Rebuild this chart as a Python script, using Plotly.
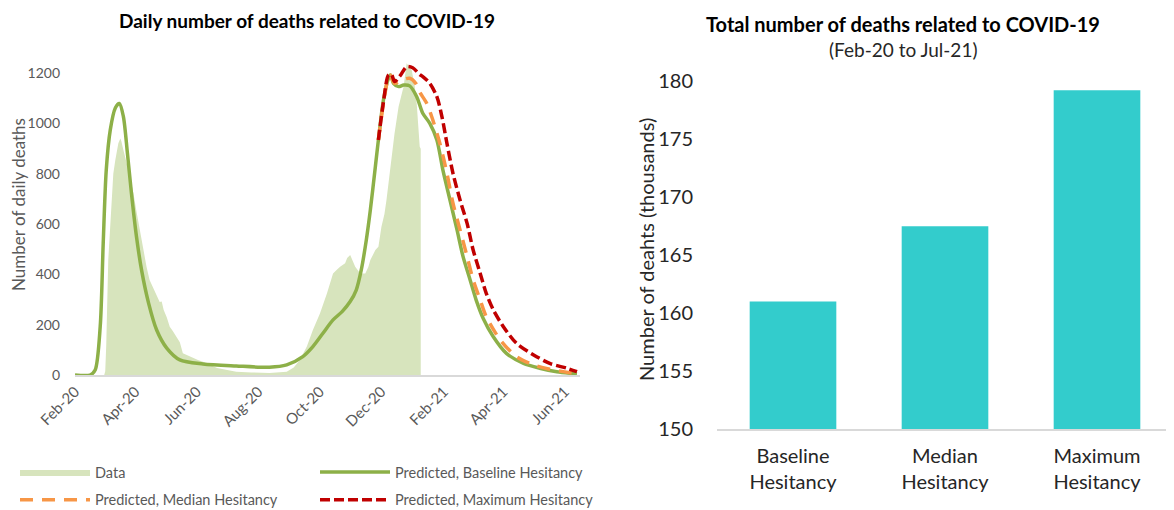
import plotly.graph_objects as go

W, H = 1174, 510
FONT = "Lato"

# ---------------- data: daily deaths (observed) ----------------
data_dates = [
    "2020-02-01", "2020-03-01", "2020-03-02", "2020-03-03", "2020-03-05", "2020-03-08",
    "2020-03-10", "2020-03-12", "2020-03-15", "2020-03-17", "2020-03-18", "2020-03-20",
    "2020-03-23", "2020-03-25", "2020-03-28", "2020-03-30", "2020-04-02", "2020-04-04",
    "2020-04-07", "2020-04-09", "2020-04-12", "2020-04-15", "2020-04-18", "2020-04-20",
    "2020-04-22", "2020-04-25", "2020-04-27", "2020-04-29", "2020-05-02", "2020-05-05",
    "2020-05-08", "2020-05-12", "2020-05-15", "2020-05-18", "2020-05-22", "2020-05-28",
    "2020-06-02", "2020-06-07", "2020-06-14", "2020-06-21", "2020-07-01", "2020-07-10",
    "2020-07-25", "2020-08-12", "2020-08-29", "2020-09-05", "2020-09-11", "2020-09-18",
    "2020-09-24", "2020-10-01", "2020-10-08", "2020-10-14", "2020-10-18", "2020-10-21",
    "2020-10-26", "2020-10-28", "2020-10-31", "2020-11-02", "2020-11-05", "2020-11-10",
    "2020-11-15", "2020-11-18", "2020-11-20", "2020-11-25", "2020-11-28", "2020-12-01",
    "2020-12-04", "2020-12-06", "2020-12-09", "2020-12-11", "2020-12-14", "2020-12-18",
    "2020-12-21", "2020-12-23", "2020-12-26", "2020-12-29", "2020-12-31", "2021-01-03",
    "2021-01-05", "2021-01-08", "2021-01-09",
]
data_values = [
    0, 0, 15, 120, 457, 696,
    800, 855, 922, 941, 930, 895,
    850, 815, 760, 723, 650, 604,
    540, 497, 430, 378, 350, 330,
    316, 290, 292, 259, 230, 192,
    175, 152, 130, 87, 80, 67,
    60, 53, 40, 28, 20, 13,
    10, 8, 13, 30, 60, 113,
    179, 245, 325, 404, 420, 431,
    444, 465, 477, 460, 431, 404,
    404, 430, 457, 497, 510, 590,
    640, 696, 800, 882, 961, 1067,
    1120, 1147, 1240, 1225, 1213, 1150,
    1080, 908, 900,
]

# ---------------- predicted, baseline hesitancy ----------------
base_dates = [
    "2020-02-01", "2020-02-16", "2020-02-21", "2020-02-26", "2020-02-29", "2020-03-03",
    "2020-03-07", "2020-03-12", "2020-03-16", "2020-03-20", "2020-03-24", "2020-03-28",
    "2020-04-02", "2020-04-07", "2020-04-14", "2020-04-22", "2020-05-02", "2020-05-15",
    "2020-06-07", "2020-07-10", "2020-08-12", "2020-08-29", "2020-09-14", "2020-09-24",
    "2020-10-04", "2020-10-14", "2020-10-23", "2020-10-31", "2020-11-06", "2020-11-11",
    "2020-11-16", "2020-11-20", "2020-11-25", "2020-11-28", "2020-12-03", "2020-12-08",
    "2020-12-10", "2020-12-13", "2020-12-18", "2020-12-23", "2020-12-29", "2021-01-05",
    "2021-01-11", "2021-01-18", "2021-01-25", "2021-01-31", "2021-02-07", "2021-02-14",
    "2021-02-20", "2021-02-27", "2021-03-05", "2021-03-12", "2021-03-22", "2021-04-04",
    "2021-04-21", "2021-05-07", "2021-05-24", "2021-06-13",
]
base_values = [
    0, 0, 20, 192, 525, 815,
    975, 1062, 1080, 1028, 882, 723,
    550, 418, 286, 179, 107, 60,
    44, 36, 31, 40, 73, 113,
    166, 219, 252, 292, 338, 418,
    537, 656, 829, 935, 1094, 1180,
    1193, 1160, 1147, 1153, 1150, 1107,
    1041, 1001, 935, 815, 696, 577,
    471, 378, 298, 225, 152, 86,
    46, 27, 13, 4,
]

# ---------------- predicted, median hesitancy ----------------
med_dates = [
    "2020-11-28", "2020-12-03", "2020-12-08", "2020-12-10", "2020-12-14", "2020-12-21",
    "2020-12-29", "2021-01-04", "2021-01-08", "2021-01-15", "2021-01-21", "2021-01-28",
    "2021-02-04", "2021-02-10", "2021-02-17", "2021-02-24", "2021-03-02", "2021-03-09",
    "2021-03-15", "2021-03-29", "2021-04-14", "2021-05-01", "2021-05-17", "2021-06-13",
]
med_values = [
    935, 1080, 1185, 1192, 1160, 1173,
    1180, 1160, 1125, 1080, 1014, 921,
    802, 683, 577, 471, 378, 298,
    232, 139, 73, 40, 23, 5,
]

# ---------------- predicted, maximum hesitancy ----------------
max_dates = [
    "2020-11-28", "2020-12-03", "2020-12-08", "2020-12-11", "2020-12-14", "2020-12-19",
    "2020-12-26", "2021-01-01", "2021-01-08", "2021-01-11", "2021-01-18", "2021-01-25",
    "2021-01-30", "2021-02-04", "2021-02-10", "2021-02-17", "2021-02-24", "2021-03-02",
    "2021-03-09", "2021-03-15", "2021-03-22", "2021-04-01", "2021-04-14", "2021-05-01",
    "2021-05-17", "2021-06-03", "2021-06-13",
]
max_values = [
    935, 1085, 1193, 1195, 1167, 1187,
    1226, 1222, 1195, 1187, 1160, 1107,
    1028, 921, 802, 696, 603, 497,
    404, 325, 259, 192, 126, 80,
    46, 27, 13,
]

# ---------------- x ticks (left chart) ----------------
tick_dates = ["2020-02-01", "2020-04-01", "2020-06-01", "2020-08-01", "2020-10-01",
              "2020-12-01", "2021-02-01", "2021-04-01", "2021-06-01"]
tick_labels = ["Feb-20", "Apr-20", "Jun-20", "Aug-20", "Oct-20",
               "Dec-20", "Feb-21", "Apr-21", "Jun-21"]

# ---------------- totals (right chart) ----------------
scenarios = ["Baseline<br>Hesitancy", "Median<br>Hesitancy", "Maximum<br>Hesitancy"]
totals_thousands = [161.0, 167.5, 179.2]

GREEN = "#8DB048"
FILL = "#D7E4BD"
ORANGE = "#F79646"
RED = "#C00000"
TEAL = "#33CCCC"
GREY_TXT = "#595959"
DARK_TXT = "#262626"

# the page body adds an 8px offset; positions below are given in screen pixels
OFF = 8


def px_x(p):
    return (p - OFF) / W


def px_y(p):
    return 1 - (p - OFF) / H


fig = go.Figure()

fig.add_trace(go.Scatter(
    x=data_dates, y=data_values, name="Data", mode="lines",
    line=dict(width=0, color=FILL), fill="tozeroy", fillcolor=FILL,
    xaxis="x", yaxis="y", legend="legend", legendgroup="a",
))
fig.add_trace(go.Scatter(
    x=base_dates, y=base_values, name="Predicted, Baseline Hesitancy", mode="lines",
    line=dict(width=3.5, color=GREEN, shape="spline", smoothing=0.8),
    xaxis="x", yaxis="y", legend="legend2", legendgroup="b",
))
fig.add_trace(go.Scatter(
    x=med_dates, y=med_values, name="Predicted, Median Hesitancy", mode="lines",
    line=dict(width=3.5, color=ORANGE, dash="13px,9px", shape="spline", smoothing=0.8),
    xaxis="x", yaxis="y", legend="legend", legendgroup="c",
))
fig.add_trace(go.Scatter(
    x=max_dates, y=max_values, name="Predicted, Maximum Hesitancy", mode="lines",
    line=dict(width=3.5, color=RED, dash="10px,4px", shape="spline", smoothing=0.8),
    xaxis="x", yaxis="y", legend="legend2", legendgroup="d",
))

fig.add_trace(go.Bar(
    x=scenarios, y=totals_thousands, marker=dict(color=TEAL, line=dict(width=0)),
    xaxis="x2", yaxis="y2", showlegend=False,
))

legend_common = dict(
    orientation="v", xanchor="left", yanchor="top",
    font=dict(family=FONT, size=14.5, color=GREY_TXT),
    bgcolor="rgba(0,0,0,0)", borderwidth=0, tracegroupgap=6,
    itemwidth=70, itemclick=False, itemdoubleclick=False,
)

fig.update_layout(
    width=W, height=H,
    margin=dict(l=0, r=0, t=0, b=0, pad=0, autoexpand=False),
    paper_bgcolor="white", plot_bgcolor="white",
    font=dict(family=FONT, color=GREY_TXT),
    bargap=0.43,
    xaxis=dict(
        domain=[px_x(75), px_x(580)], type="date",
        range=["2020-02-01", "2021-06-16"],
        tickvals=tick_dates, ticktext=tick_labels, tickangle=-45,
        tickfont=dict(family=FONT, size=15, color=GREY_TXT),
        showgrid=False, zeroline=False, showline=True, automargin=False,
        linecolor="#D9D9D9", linewidth=2, ticks="", anchor="y",
    ),
    yaxis=dict(
        domain=[px_y(375), px_y(58.2)], range=[0, 1260], dtick=200,
        tickfont=dict(family=FONT, size=14, color=GREY_TXT),
        showgrid=False, zeroline=False, showline=False, ticks="", automargin=False,
        ticklabelstandoff=14, anchor="x",
    ),
    xaxis2=dict(
        domain=[px_x(717), px_x(1173)], type="category",
        tickfont=dict(family=FONT, size=20, color=DARK_TXT),
        showgrid=False, zeroline=False, showline=True, automargin=False,
        linecolor="#D9D9D9", linewidth=2, ticks="", anchor="y2",
        ticklabelstandoff=8,
    ),
    yaxis2=dict(
        domain=[px_y(429.3), px_y(75.2)], range=[150, 180.5], dtick=5,
        tickfont=dict(family=FONT, size=20, color=DARK_TXT),
        showgrid=False, zeroline=False, showline=False, ticks="", automargin=False,
        ticklabelstandoff=23, anchor="x2",
    ),
    legend=dict(x=px_x(15), y=px_y(456), **legend_common),
    legend2=dict(x=px_x(315), y=px_y(456), **legend_common),
    annotations=[
        dict(text="<b>Daily number of deaths related to COVID-19</b>",
             x=px_x(307), y=px_y(8), xref="paper", yref="paper",
             xanchor="center", yanchor="top", borderpad=0,
             showarrow=False, font=dict(family=FONT, size=19, color="#000000")),
        dict(text="<b>Total number of deaths related to COVID-19</b>",
             x=px_x(903), y=px_y(24), xref="paper", yref="paper",
             xanchor="center", yanchor="middle",
             showarrow=False, font=dict(family=FONT, size=20, color="#000000")),
        dict(text="(Feb-20 to Jul-21)",
             x=px_x(903), y=px_y(49), xref="paper", yref="paper",
             xanchor="center", yanchor="middle",
             showarrow=False, font=dict(family=FONT, size=19, color=DARK_TXT)),
        dict(text="Number of daily deaths", textangle=-90,
             x=px_x(19), y=px_y(205), xref="paper", yref="paper",
             xanchor="center", yanchor="middle",
             showarrow=False, font=dict(family=FONT, size=17, color=GREY_TXT)),
        dict(text="Number of deahts (thousands)", textangle=-90,
             x=px_x(646), y=px_y(250), xref="paper", yref="paper",
             xanchor="center", yanchor="middle",
             showarrow=False, font=dict(family=FONT, size=20, color=DARK_TXT)),
    ],
)

fig.write_html("out.html")
